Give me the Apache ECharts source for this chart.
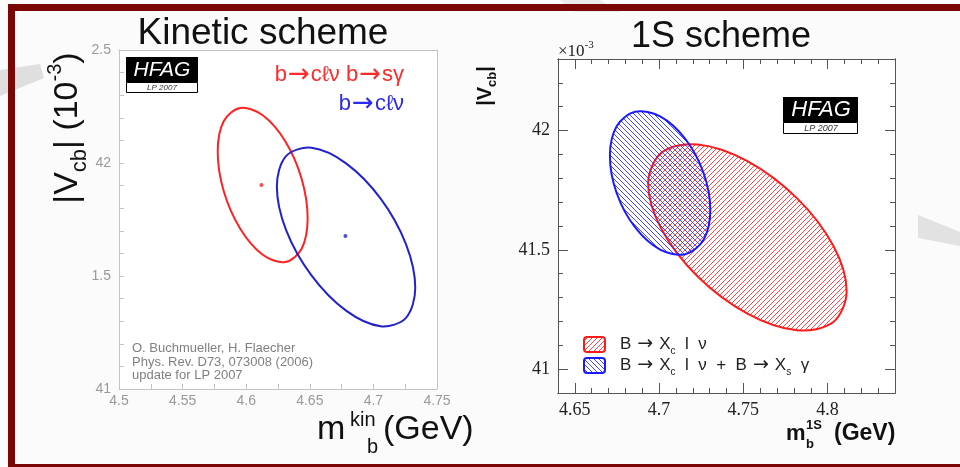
<!DOCTYPE html>
<html><head><meta charset="utf-8">
<script src="https://cdn.jsdelivr.net/npm/echarts@6/dist/echarts.min.js"></script>
<style>html,body{margin:0;padding:0;background:#fbfbfb}#c{width:960px;height:467px}</style>
</head><body><div id="c"></div>
<script>
// ---------- data ----------
// Kinetic scheme: |Vcb| (x1e-3) vs m_b^kin (GeV), 1-sigma contours
const kinRedCenter = [4.612, 41.903];
const kinRedContour = [
  [4.6483,41.7552],[4.6436,41.6206],[4.6307,41.5616],[4.6130,41.5941],
  [4.5953,41.7092],[4.5823,41.8761],[4.5776,42.0501],[4.5823,42.1847],
  [4.5953,42.2437],[4.6130,42.2112],[4.6307,42.0961],[4.6436,41.9292]
];
const kinBlueCenter = [4.678, 41.677];
const kinBlueContour = [
  [4.7329,41.4477],[4.7256,41.3148],[4.7057,41.2778],[4.6785,41.3466],
  [4.6513,41.5027],[4.6313,41.7043],[4.6241,41.8974],[4.6313,42.0303],
  [4.6513,42.0673],[4.6785,41.9985],[4.7057,41.8424],[4.7256,41.6408]
];
// 1S scheme
const oneSRedContour = [
  [4.8113,41.3270],[4.8034,41.1973],[4.7818,41.1627],[4.7524,41.2325],
  [4.7229,41.3880],[4.7014,41.5875],[4.6935,41.7776],[4.7014,41.9073],
  [4.7229,41.9419],[4.7524,41.8721],[4.7818,41.7167],[4.8034,41.5171]
];
const oneSBlueContour = [
  [4.7304,41.6674],[4.7264,41.5428],[4.7155,41.4820],[4.7006,41.5010],
  [4.6857,41.5949],[4.6748,41.7385],[4.6708,41.8933],[4.6748,42.0178],
  [4.6857,42.0787],[4.7006,42.0596],[4.7155,41.9657],[4.7264,41.8222]
];
// tick labels
const kinYTickValues = [41, 41.5, 42, 42.5];
const kinYTickLabels = ['41', '1.5', '42', '2.5'];
const oneSXMajor = [4.65, 4.7, 4.75, 4.8];
const oneSYMajor = [41, 41.5, 42];

// ---------- helpers ----------
function hatch(color, dir, size) {
  const c = document.createElement('canvas');
  c.width = c.height = size;
  const g = c.getContext('2d');
  g.strokeStyle = color; g.lineWidth = 1;
  g.beginPath();
  if (dir > 0) { // '/'
    g.moveTo(0, size); g.lineTo(size, 0);
    g.moveTo(-1, 1); g.lineTo(1, -1);
    g.moveTo(size - 1, size + 1); g.lineTo(size + 1, size - 1);
  } else { // '\'
    g.moveTo(0, 0); g.lineTo(size, size);
    g.moveTo(-1, size - 1); g.lineTo(1, size + 1);
    g.moveTo(size - 1, -1); g.lineTo(size + 1, 1);
  }
  g.stroke();
  return c;
}
const redHatch = {image: hatch('rgba(255,40,40,0.85)', 1, 5), repeat: 'repeat'};
const blueHatch = {image: hatch('rgba(40,40,255,0.85)', -1, 5), repeat: 'repeat'};

function contourSeries(pts, stroke, fill, xi, yi, z) {
  return {
    type: 'custom', coordinateSystem: 'cartesian2d', xAxisIndex: xi, yAxisIndex: yi,
    data: [pts[0]], silent: true, z: z,
    renderItem: function (params, api) {
      return {
        type: 'polygon',
        shape: {points: pts.map(p => api.coord(p)), smooth: 0.33},
        style: {fill: fill || 'none', stroke: stroke, lineWidth: 2}
      };
    }
  };
}

const lightAxis = '#c4c4c4';
const darkAxis = '#555';
const serif = '"Liberation Serif", "DejaVu Serif", serif';
const sans = '"Liberation Sans", Arial, sans-serif';
const arrowFont = '"DejaVu Sans", sans-serif';

function kinAxisCommon(extra) {
  return Object.assign({
    type: 'value', splitLine: {show: false},
    axisLine: {show: true, lineStyle: {color: lightAxis, width: 1}},
    axisTick: {show: true, inside: true, length: 5, lineStyle: {color: lightAxis}},
    minorTick: {show: true, length: 5, lineStyle: {color: lightAxis}},
    axisLabel: {show: true, color: '#999', fontSize: 14, fontFamily: sans}
  }, extra);
}
function oneSMinor(extra) {
  return Object.assign({
    type: 'value', gridIndex: 1, splitLine: {show: false},
    axisLine: {show: true, lineStyle: {color: darkAxis, width: 1}},
    axisTick: {show: true, inside: true, length: 5, lineStyle: {color: darkAxis}},
    axisLabel: {show: false}
  }, extra);
}
function oneSMajor(extra, values, showLabel) {
  return Object.assign({
    type: 'value', gridIndex: 1, splitLine: {show: false},
    axisLine: {show: true, lineStyle: {color: darkAxis, width: 1}},
    axisTick: {show: true, inside: true, length: 10, customValues: values, lineStyle: {color: darkAxis}},
    axisLabel: {show: showLabel, customValues: values, color: '#222', fontSize: 18, fontFamily: serif}
  }, extra);
}

function legendRich(size, arrowSize, arrowPad, color) {
  return {
    t: {fontSize: size, fontFamily: sans, fill: color, lineHeight: size + 8, verticalAlign: 'middle'},
    ar: {fontSize: arrowSize, fontFamily: arrowFont, fill: color, lineHeight: size + 8, verticalAlign: 'middle', padding: [0, arrowPad, 0, arrowPad]},
    s: {fontSize: Math.round(size * 0.6), fontFamily: sans, fill: color, lineHeight: Math.round(size * 0.6), verticalAlign: 'bottom'}
  };
}

const chart = echarts.init(document.getElementById('c'), null, {renderer: 'canvas'});

const option = {
  animation: false,
  backgroundColor: '#fbfbfb',
  grid: [
    {left: 119, top: 50, width: 318, height: 339, show: true, backgroundColor: '#ffffff', borderWidth: 0},
    {left: 558, top: 59, width: 337, height: 334, show: true, backgroundColor: '#ffffff', borderWidth: 0}
  ],
  xAxis: [
    kinAxisCommon({gridIndex: 0, position: 'bottom', min: 4.5, max: 4.75, interval: 0.05,
      minorTick: {show: true, splitNumber: 2, length: 5, lineStyle: {color: lightAxis}},
      axisLabel: {show: true, color: '#999', fontSize: 14, fontFamily: sans, margin: 5}}),
    kinAxisCommon({gridIndex: 0, position: 'top', min: 4.5, max: 4.75, interval: 0.05,
      axisTick: {show: false}, minorTick: {show: false}, axisLabel: {show: false}}),
    oneSMinor({position: 'bottom', min: 4.64, max: 4.84, interval: 0.01}),
    oneSMajor({position: 'bottom', min: 4.64, max: 4.84}, oneSXMajor, true),
    oneSMinor({position: 'top', min: 4.64, max: 4.84, interval: 0.01}),
    oneSMajor({position: 'top', min: 4.64, max: 4.84}, oneSXMajor, false)
  ],
  yAxis: [
    kinAxisCommon({gridIndex: 0, position: 'left', min: 41, max: 42.5, interval: 0.5,
      minorTick: {show: true, splitNumber: 5, length: 5, lineStyle: {color: lightAxis}},
      axisLabel: {show: true, color: '#999', fontSize: 14, fontFamily: sans, margin: 8,
        formatter: function (v) {
          const i = kinYTickValues.findIndex(tv => Math.abs(tv - v) < 1e-6);
          return i >= 0 ? kinYTickLabels[i] : '';
        }}}),
    kinAxisCommon({gridIndex: 0, position: 'right', min: 41, max: 42.5, interval: 0.5,
      axisTick: {show: false}, minorTick: {show: false}, axisLabel: {show: false}}),
    oneSMinor({position: 'left', min: 40.9, max: 42.3, interval: 0.1}),
    oneSMajor({position: 'left', min: 40.9, max: 42.3}, oneSYMajor, true),
    oneSMinor({position: 'right', min: 40.9, max: 42.3, interval: 0.1}),
    oneSMajor({position: 'right', min: 40.9, max: 42.3}, oneSYMajor, false)
  ],
  series: [
    contourSeries(kinRedContour, '#ff2222', null, 0, 0, 3),
    contourSeries(kinBlueContour, '#2222cc', null, 0, 0, 3),
    {type: 'scatter', xAxisIndex: 0, yAxisIndex: 0, data: [kinRedCenter], symbolSize: 4,
      itemStyle: {color: '#ff2222'}, silent: true, z: 4},
    {type: 'scatter', xAxisIndex: 0, yAxisIndex: 0, data: [kinBlueCenter], symbolSize: 4,
      itemStyle: {color: '#2222cc'}, silent: true, z: 4},
    contourSeries(oneSRedContour, '#ff1a1a', redHatch, 2, 2, 3),
    contourSeries(oneSBlueContour, '#1a1aff', blueHatch, 2, 2, 4)
  ],
  graphic: [
    // faint background streaks
    {type: 'polygon', shape: {points: [[0,70],[40,64],[44,78],[0,96]]}, style: {fill: 'rgba(150,150,150,0.28)'}, z: -10},
    {type: 'polygon', shape: {points: [[918,215],[960,232],[960,246],[918,238]]}, style: {fill: 'rgba(150,150,150,0.25)'}, z: -10},
    {type: 'polygon', shape: {points: [[560,0],[600,0],[620,12],[575,12]]}, style: {fill: 'rgba(170,170,170,0.2)'}, z: -10},
    // frame
    {type: 'rect', shape: {x: 8, y: 4, width: 952, height: 7}, style: {fill: '#7b0606'}, z: 50},
    {type: 'rect', shape: {x: 8, y: 4, width: 7, height: 463}, style: {fill: '#7b0606'}, z: 50},
    {type: 'rect', shape: {x: 8, y: 464, width: 952, height: 3}, style: {fill: '#7b0606'}, z: 50},
    // titles
    {type: 'text', x: 263, y: 34, style: {text: 'Kinetic scheme', fontSize: 37, fontFamily: sans, fill: '#111', align: 'center', verticalAlign: 'middle'}, z: 20},
    {type: 'text', x: 721, y: 37, style: {text: '1S scheme', fontSize: 36, fontFamily: sans, fill: '#111', align: 'center', verticalAlign: 'middle'}, z: 20},
    // left y title
    {type: 'text', x: 68, y: 128, rotation: Math.PI / 2, z: 20,
      style: {text: '{a||V}{sub|cb}{a|| (10}{sup|-3}{a|)}', align: 'center', verticalAlign: 'middle',
        rich: {
          a: {fontSize: 34, fontFamily: sans, fill: '#111', lineHeight: 46, verticalAlign: 'middle'},
          sub: {fontSize: 22, fontFamily: sans, fill: '#111', lineHeight: 22, verticalAlign: 'bottom'},
          sup: {fontSize: 20, fontFamily: sans, fill: '#111', lineHeight: 20, verticalAlign: 'top'}
        }}},
    // left x title
    {type: 'text', x: 317, y: 430, z: 20, style: {text: 'm', fontSize: 34, fontFamily: sans, fill: '#111', verticalAlign: 'middle'}},
    {type: 'text', x: 350, y: 420, z: 20, style: {text: 'kin', fontSize: 20, fontFamily: sans, fill: '#111', verticalAlign: 'middle'}},
    {type: 'text', x: 367, y: 447, z: 20, style: {text: 'b', fontSize: 20, fontFamily: sans, fill: '#111', verticalAlign: 'middle'}},
    {type: 'text', x: 383, y: 430, z: 20, style: {text: '(GeV)', fontSize: 34, fontFamily: sans, fill: '#111', verticalAlign: 'middle'}},
    // left legend texts
    {type: 'text', x: 404, y: 75, z: 20, style: {text: '{t|b}{ar|\u2192}{t|c\u2113\u03BD b}{ar|\u2192}{t|s\u03B3}', align: 'right', verticalAlign: 'middle', rich: legendRich(22, 26, 1, '#ff2a2a')}},
    {type: 'text', x: 404, y: 104, z: 20, style: {text: '{t|b}{ar|\u2192}{t|c\u2113\u03BD}', align: 'right', verticalAlign: 'middle', rich: legendRich(22, 26, 1, '#2a2aee')}},
    // citation
    {type: 'text', x: 132, y: 348, z: 20, style: {text: 'O. Buchmueller, H. Flaecher', fontSize: 13, fontFamily: sans, fill: '#808080', verticalAlign: 'middle'}},
    {type: 'text', x: 132, y: 362, z: 20, style: {text: 'Phys. Rev. D73, 073008 (2006)', fontSize: 13, fontFamily: sans, fill: '#808080', verticalAlign: 'middle'}},
    {type: 'text', x: 132, y: 375, z: 20, style: {text: 'update for LP 2007', fontSize: 13, fontFamily: sans, fill: '#808080', verticalAlign: 'middle'}},
    // HFAG logo left
    {type: 'rect', shape: {x: 126, y: 57, width: 72, height: 25}, style: {fill: '#000'}, z: 20},
    {type: 'rect', shape: {x: 126.5, y: 82.5, width: 71, height: 10}, style: {fill: '#fff', stroke: '#000', lineWidth: 1}, z: 20},
    {type: 'text', x: 162, y: 70, z: 21, style: {text: 'HFAG', fontSize: 21, fontStyle: 'italic', fontFamily: sans, fill: '#fff', align: 'center', verticalAlign: 'middle'}},
    {type: 'text', x: 162, y: 88, z: 21, style: {text: 'LP 2007', fontSize: 8, fontStyle: 'italic', fontFamily: sans, fill: '#333', align: 'center', verticalAlign: 'middle'}},
    // HFAG logo right
    {type: 'rect', shape: {x: 783, y: 97, width: 75, height: 25}, style: {fill: '#000'}, z: 20},
    {type: 'rect', shape: {x: 783.5, y: 122.5, width: 74, height: 11}, style: {fill: '#fff', stroke: '#000', lineWidth: 1}, z: 20},
    {type: 'text', x: 821, y: 110, z: 21, style: {text: 'HFAG', fontSize: 22, fontStyle: 'italic', fontFamily: sans, fill: '#fff', align: 'center', verticalAlign: 'middle'}},
    {type: 'text', x: 821, y: 128.5, z: 21, style: {text: 'LP 2007', fontSize: 9, fontStyle: 'italic', fontFamily: sans, fill: '#333', align: 'center', verticalAlign: 'middle'}},
    // right y title
    {type: 'text', x: 485, y: 86, rotation: Math.PI / 2, z: 20,
      style: {text: '{a||V}{sub|cb}{a||}', align: 'center', verticalAlign: 'middle',
        rich: {
          a: {fontSize: 20, fontWeight: 'bold', fontFamily: sans, fill: '#111', lineHeight: 28, verticalAlign: 'middle'},
          sub: {fontSize: 13, fontWeight: 'bold', fontFamily: sans, fill: '#111', lineHeight: 13, verticalAlign: 'bottom'}
        }}},
    // x10^-3
    {type: 'text', x: 558, y: 50, z: 20,
      style: {text: '{a|\u00D710}{s|-3}', verticalAlign: 'middle',
        rich: {a: {fontSize: 17, fontFamily: serif, fill: '#222', lineHeight: 20, verticalAlign: 'bottom'},
               s: {fontSize: 11, fontFamily: serif, fill: '#222', lineHeight: 11, verticalAlign: 'top'}}}},
    // right x title
    {type: 'text', x: 786, y: 434, z: 20, style: {text: 'm', fontSize: 22, fontWeight: 'bold', fontFamily: sans, fill: '#111', verticalAlign: 'middle'}},
    {type: 'text', x: 806, y: 425, z: 20, style: {text: '1S', fontSize: 13, fontWeight: 'bold', fontFamily: sans, fill: '#111', verticalAlign: 'middle'}},
    {type: 'text', x: 806, y: 444, z: 20, style: {text: 'b', fontSize: 13, fontWeight: 'bold', fontFamily: sans, fill: '#111', verticalAlign: 'middle'}},
    {type: 'text', x: 834, y: 434, z: 20, style: {text: '(GeV)', fontSize: 23, fontWeight: 'bold', fontFamily: sans, fill: '#111', verticalAlign: 'middle'}},
    // right legend
    {type: 'rect', shape: {x: 584, y: 337, width: 21, height: 15, r: 3}, style: {fill: redHatch, stroke: '#ff1a1a', lineWidth: 2}, z: 20},
    {type: 'rect', shape: {x: 584, y: 358, width: 21, height: 15, r: 3}, style: {fill: blueHatch, stroke: '#1a1aff', lineWidth: 2}, z: 20},
    {type: 'text', x: 620, y: 344, z: 20,
      style: {text: '{t|B}{ar|\u2192}{t|X}{s|c}{t|  l  \u03BD}', verticalAlign: 'middle', rich: legendRich(17, 19, 6, '#222')}},
    {type: 'text', x: 620, y: 365, z: 20,
      style: {text: '{t|B}{ar|\u2192}{t|X}{s|c}{t|  l  \u03BD  +  B}{ar|\u2192}{t|X}{s|s}{t|  \u03B3}', verticalAlign: 'middle', rich: legendRich(17, 19, 6, '#222')}}
  ]
};
chart.setOption(option);
</script>
</body></html>
